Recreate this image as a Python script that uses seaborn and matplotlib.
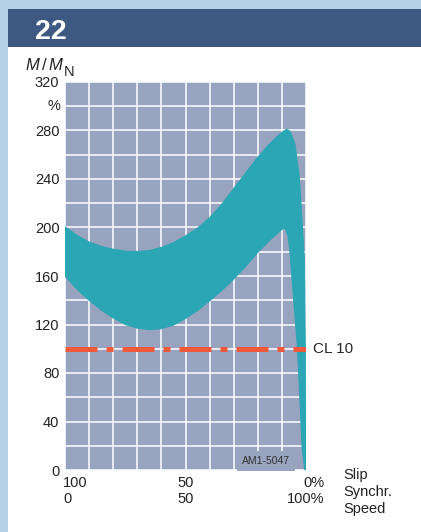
import numpy as np
import seaborn as sns
import matplotlib.pyplot as plt
from matplotlib.patches import Rectangle
from matplotlib.transforms import ScaledTranslation

# speed (% of synchronous) and torque M/MN (%)
upper_x = [0, 5, 10, 15, 20, 25, 30, 35, 40, 45, 50, 55, 60, 65, 70, 75, 80,
           84, 88, 90, 92, 93.5, 95.4, 97.2, 98.3, 99.3, 99.7, 99.8]
upper_y = [200.5, 193.5, 188, 184.5, 182, 180.5, 180.2, 181, 183.5, 187.5, 193,
           199.5, 208, 219, 232, 245, 258, 267, 275, 278.5, 281, 279, 269, 242,
           208, 173, 100, 0]
lower_x = [0, 5, 10, 15, 20, 25, 30, 35, 40, 45, 50, 55, 60, 65, 70, 75, 80,
           85, 88, 90, 91.3, 92.5, 93.3, 94.5, 95.5, 96.5, 97.5, 98.4, 99.5]
lower_y = [160, 149, 140, 132, 125.5, 120, 117, 115.8, 116.5, 119.5, 125, 131.5,
           139.5, 148, 157.5, 168, 179.5, 189.5, 195, 198.5, 199.5, 193, 181, 150,
           125, 100, 57, 18, 0]

cl_level = 100
cl_label = 'CL 10'
y_ticks = [0, 40, 80, 120, 160, 200, 240, 280, 320]
x_ticks = [0, 50, 100]
x_labels = ['100\n0', '50\n50', '0%\n100%']
axis_names = 'Slip\nSynchr.\nSpeed'
chart_no = '22'
code = 'AM1-5047'

teal = '#2ba6b5'
red = '#f05a3c'
plot_bg = '#98a3c0'
header = '#3d5982'
strip = '#b4d0e4'

sns.set_style('darkgrid', {'axes.facecolor': plot_bg, 'grid.color': 'white'})
plt.rcParams['font.family'] = ['Liberation Sans', 'DejaVu Sans']
plt.rcParams['mathtext.fontset'] = 'custom'
plt.rcParams['mathtext.it'] = 'Liberation Sans:italic'
plt.rcParams['mathtext.rm'] = 'Liberation Sans'

W, H = 421, 532
fig = plt.figure(figsize=(W / 100, H / 100), dpi=100, facecolor=strip)
fig.patches.append(Rectangle((8 / W, 0), 1, 1 - 47 / H, transform=fig.transFigure,
                             facecolor='white', edgecolor='none', zorder=-2))
fig.patches.append(Rectangle((8 / W, 1 - 47 / H), 1, 38 / H, transform=fig.transFigure,
                             facecolor=header, edgecolor='none', zorder=-2))
fig.text(35 / W, 1 - 39 / H, chart_no, color='white', fontsize=20.5,
         fontweight='bold', ha='left', va='baseline')

ax = fig.add_axes([65 / W, 1 - 470 / H, 241 / W, 388 / H])
ax.set_zorder(1)

# torque band
ax.fill(np.concatenate([upper_x, lower_x[::-1]]),
        np.concatenate([upper_y, lower_y[::-1]]),
        color=teal, lw=0, zorder=2)
sns.lineplot(x=upper_x, y=upper_y, color=teal, lw=0.8, sort=False, ax=ax, zorder=2)
sns.lineplot(x=lower_x, y=lower_y, color=teal, lw=0.8, sort=False, ax=ax, zorder=2)

# CL 10 line
ln, = ax.plot([0, 100], [cl_level, cl_level], color=red, lw=3.6, zorder=3,
              solid_capstyle='butt', dash_capstyle='butt')
ln.set_dashes((6.4, 1.8, 1.4, 1.8))
ax.text(102.8, cl_level, cl_label, fontsize=11, va='center', ha='left',
        clip_on=False)

ax.set_xlim(0, 100)
ax.set_ylim(0, 320)
ax.set_xticks(np.arange(0, 101, 10), minor=True)
ax.set_yticks(np.arange(0, 321, 20), minor=True)
ax.set_xticks(x_ticks)
ax.set_yticks(y_ticks)
ax.set_yticklabels([str(v) for v in y_ticks])
ax.set_xticklabels(x_labels)
ax.grid(which='both', color='white', lw=1.1)
ax.tick_params(which='both', length=0, labelsize=10.5, colors='#222222')
ax.tick_params(axis='y', pad=4)
ax.tick_params(axis='x', pad=4)
for s in ax.spines.values():
    s.set_visible(False)

xl = ax.get_xticklabels()
xl[0].set_ha('left')
xl[0].set_multialignment('left')
xl[0].set_transform(xl[0].get_transform() + ScaledTranslation(-2 / 100, 0, fig.dpi_scale_trans))
xl[2].set_ha('right')
xl[2].set_multialignment('right')
xl[2].set_transform(xl[2].get_transform() + ScaledTranslation(18 / 100, 0, fig.dpi_scale_trans))

ax.text(-1.8, 300, '%', fontsize=10.5, ha='right', va='center', color='#222222',
        clip_on=False)

ax.text(93.5, 7.5, code, fontsize=7.5, ha='right', va='center', color='#333333', zorder=2.5,
        bbox=dict(facecolor=plot_bg, edgecolor='none', pad=3.5))

fig.text(25 / W, 1 - 70 / H, r'$M\,/\,M$', fontsize=12,
         ha='left', va='baseline', color='#222222')
fig.text(64 / W, 1 - 76 / H, 'N', fontsize=10.5,
         ha='left', va='baseline', color='#222222')
fig.text(343 / W, 1 - 468 / H, axis_names, fontsize=10.5, ha='left', va='top',
         linespacing=1.25, color='#222222')

fig.savefig('out.png', dpi=100, facecolor=fig.get_facecolor())
